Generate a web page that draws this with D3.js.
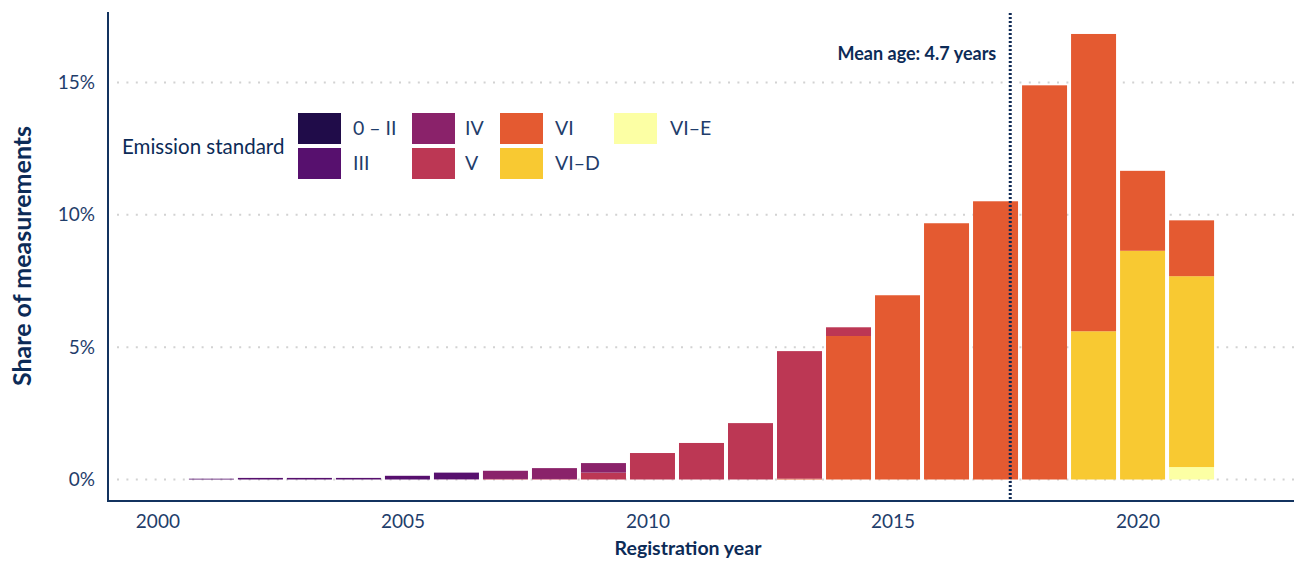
<!DOCTYPE html>
<html>
<head>
<meta charset="utf-8">
<script src="https://cdn.jsdelivr.net/npm/d3@7"></script>
<style>
  body { margin: 0; background: #fff; }
  svg { font-family: Lato, "Open Sans", sans-serif; }
</style>
</head>
<body>
<div id="chart"></div>
<script>
// registration years and share of measurements (%) per emission standard
var years   = [2001, 2002, 2003, 2004, 2005, 2006, 2007, 2008, 2009, 2010, 2011, 2012, 2013, 2014, 2015, 2016, 2017, 2018, 2019, 2020, 2021];
var std0_II = [0,    0,    0,    0,    0,    0,    0,    0,    0,    0,    0,    0,    0,    0,    0,    0,    0,    0,    0,    0,    0];
var stdIII  = [0.03, 0.06, 0.06, 0.06, 0.14, 0.25, 0,    0,    0,    0,    0,    0,    0,    0,    0,    0,    0,    0,    0,    0,    0];
var stdIV   = [0,    0,    0,    0,    0,    0.01, 0.31, 0.41, 0.36, 0,    0,    0,    0,    0,    0,    0,    0,    0,    0,    0,    0];
var stdV    = [0,    0,    0,    0,    0,    0,    0.02, 0.02, 0.26, 1.0,  1.38, 2.13, 4.82, 0.33, 0,    0,    0,    0,    0,    0,    0];
var stdVI   = [0,    0,    0,    0,    0,    0,    0,    0,    0,    0,    0,    0,    0.03, 5.42, 6.96, 9.68, 10.51, 14.89, 11.23, 3.02, 2.11];
var stdVI_D = [0,    0,    0,    0,    0,    0,    0,    0,    0,    0,    0,    0,    0,    0,    0,    0,    0,    0,    5.6,  8.64, 7.21];
var stdVI_E = [0,    0,    0,    0,    0,    0,    0,    0,    0,    0,    0,    0,    0,    0,    0,    0,    0,    0,    0,    0,    0.47];

var standards = ["0 – II", "III", "IV", "V", "VI", "VI–D", "VI–E"];
var colors    = ["#200c49", "#57106e", "#8a226a", "#bc3754", "#e45a31", "#f8c932", "#fcffa4"];
var yTicks = [0, 5, 10, 15];
var xTicks = [2000, 2005, 2010, 2015, 2020];
var meanAgeYear = 2017.3;

var series = [std0_II, stdIII, stdIV, stdV, stdVI, stdVI_D, stdVI_E];
var rows = years.map(function(y, i){
    var r = {year: y};
    standards.forEach(function(s, k){ r[s] = series[k][i]; });
    return r;
});

var navy = "#13335f", dark = "#0c2b57", tickCol = "#1f3d6b";
var width = 1295, height = 561;
var svg = d3.select("#chart").append("svg")
    .attr("width", width).attr("height", height);

var x = d3.scaleLinear().domain([1998.89, 2023.09]).range([108, 1294]);
var y = d3.scaleLinear().domain([0, 17.66]).range([479.5, 12]);
var color = d3.scaleOrdinal().domain(standards).range(colors);
var barW = 45;

// gridlines
svg.append("g").selectAll("line").data(yTicks).enter().append("line")
    .attr("x1", 117).attr("x2", 1294)
    .attr("y1", function(d){ return y(d); }).attr("y2", function(d){ return y(d); })
    .attr("stroke", "#d2d2d2").attr("stroke-width", 2)
    .attr("stroke-dasharray", "2,7.4");

// stacked bars (newest standard at the bottom)
var stack = d3.stack().keys(standards.slice().reverse());
var layers = stack(rows);
svg.append("g").selectAll("g").data(layers).enter().append("g")
    .attr("fill", function(d){ return color(d.key); })
  .selectAll("rect").data(function(d){ return d; }).enter().append("rect")
    .attr("x", function(d){ return x(d.data.year) - barW / 2; })
    .attr("width", barW)
    .attr("y", function(d){ return y(d[1]); })
    .attr("height", function(d){ return y(d[0]) - y(d[1]); });

// axes
var yAxis = svg.append("g").attr("transform", "translate(108,0)")
    .call(d3.axisLeft(y).tickValues(yTicks).tickSize(0).tickPadding(13)
        .tickFormat(function(d){ return d + "%"; }));
yAxis.select(".domain").remove();
yAxis.selectAll("text").attr("font-size", 19).attr("fill", tickCol)
    .attr("font-family", "Lato").attr("font-weight", 400);

var xAxis = svg.append("g").attr("transform", "translate(0,501)")
    .call(d3.axisBottom(x).tickValues(xTicks).tickSize(0).tickPadding(14)
        .tickFormat(d3.format("d")));
xAxis.select(".domain").remove();
xAxis.selectAll("text").attr("font-size", 19).attr("fill", tickCol)
    .attr("font-family", "Lato").attr("font-weight", 400).attr("dx", -5);

svg.append("line").attr("x1", 108).attr("x2", 108).attr("y1", 12).attr("y2", 502)
    .attr("stroke", navy).attr("stroke-width", 2);
svg.append("line").attr("x1", 107).attr("x2", 1294).attr("y1", 501).attr("y2", 501)
    .attr("stroke", navy).attr("stroke-width", 2);

// mean age marker
svg.append("line")
    .attr("x1", x(meanAgeYear)).attr("x2", x(meanAgeYear))
    .attr("y1", 13).attr("y2", 501)
    .attr("stroke", "#0f2a56").attr("stroke-width", 3)
    .attr("stroke-dasharray", "2,2");
svg.append("text").attr("x", x(meanAgeYear) - 14).attr("y", 60)
    .attr("text-anchor", "end").attr("font-size", 18).attr("font-weight", 700)
    .attr("fill", dark).text("Mean age: 4.7 years");

// axis titles
svg.append("text").attr("transform", "translate(31,256) rotate(-90)")
    .attr("text-anchor", "middle").attr("font-size", 25).attr("font-weight", 700)
    .attr("fill", dark).text("Share of measurements");
svg.append("text").attr("x", 688).attr("y", 555)
    .attr("text-anchor", "middle").attr("font-size", 19.5).attr("font-weight", 700)
    .attr("fill", dark).text("Registration year");

// legend
var legend = svg.append("g");
legend.append("text").attr("x", 122).attr("y", 154)
    .attr("font-size", 20.5).attr("fill", dark).text("Emission standard");
var colX = [298, 412, 500, 614], labX = [353, 465, 555, 670], rowY = [113, 148];
var items = legend.selectAll("g.item").data(standards).enter().append("g")
    .attr("class", "item")
    .attr("transform", function(d, i){
        return "translate(" + colX[Math.floor(i / 2)] + "," + rowY[i % 2] + ")";
    });
items.append("rect").attr("width", 43).attr("height", 31)
    .attr("fill", function(d){ return color(d); });
items.append("text")
    .attr("x", function(d, i){ return labX[Math.floor(i / 2)] - colX[Math.floor(i / 2)]; })
    .attr("y", 22).attr("font-size", 19.5).attr("font-weight", 400)
    .attr("fill", tickCol).text(function(d){ return d; });
</script>
</body>
</html>
